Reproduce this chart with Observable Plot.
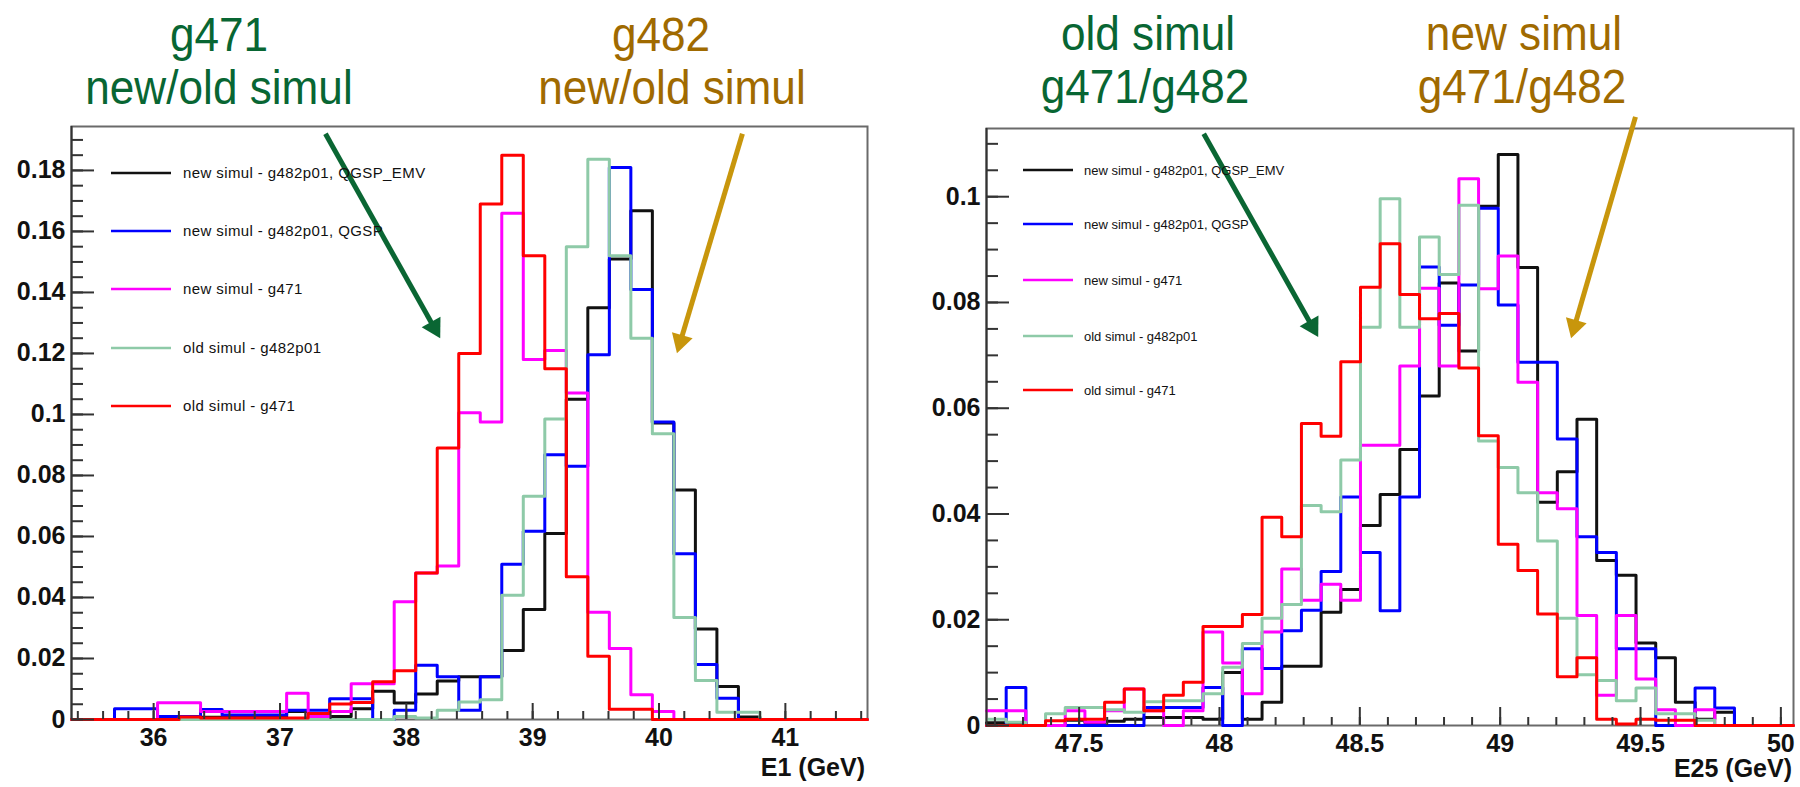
<!DOCTYPE html>
<html>
<head>
<meta charset="utf-8">
<script src="https://cdn.jsdelivr.net/npm/d3@7"></script>
<script src="https://cdn.jsdelivr.net/npm/@observablehq/plot@0.6"></script>
<style>
  html, body { margin: 0; padding: 0; background: #fff; }
  #root { position: relative; width: 1800px; height: 787px; overflow: hidden; }
  #root > svg { position: absolute; top: 0; }
</style>
</head>
<body>
<div id="root"></div>
<script>
// ===================== DATA =====================
const seriesNames = [
  "new simul - g482p01, QGSP_EMV",
  "new simul - g482p01, QGSP",
  "new simul - g471",
  "old simul - g482p01",
  "old simul - g471"
];
const seriesColors = ["#111111", "#0000ff", "#ff00ff", "#8ecaa8", "#ff0000"];

// ---- left panel : E1 (GeV), 37 bins ----
const e1Bins = {lo: 35.35, hi: 41.65, n: 37};
const e1XTicks = [36, 37, 38, 39, 40, 41];
const e1YTicks = [0, 0.02, 0.04, 0.06, 0.08, 0.10, 0.12, 0.14, 0.16, 0.18];
const e1YMax = 0.1944;
const e1_newEMV = [0, 0, 0, 0, 0.001, 0.001, 0.0007, 0.0007, 0.0007, 0.0007, 0.0026, 0.001, 0.001, 0.0035, 0.0093, 0.0054, 0.0084, 0.0126, 0.014, 0.014, 0.0226, 0.0361, 0.061, 0.105, 0.135, 0.151, 0.1668, 0.0972, 0.0752, 0.0297, 0.0108, 0.0008, 0, 0, 0, 0, 0];
const e1_newQGSP = [0, 0, 0.0035, 0.0035, 0.001, 0.001, 0.0033, 0.0015, 0.0015, 0.0015, 0.003, 0.003, 0.0068, 0.0068, 0, 0.003, 0.0178, 0.014, 0.003, 0.014, 0.0509, 0.0617, 0.0868, 0.083, 0.1196, 0.181, 0.141, 0.0975, 0.0543, 0.018, 0.007, 0, 0, 0, 0, 0, 0];
const e1_new471 = [0, 0, 0, 0, 0.0055, 0.0055, 0.0026, 0.0026, 0.0026, 0.0026, 0.0086, 0.001, 0.0026, 0.0117, 0.0117, 0.0386, 0.048, 0.0503, 0.1006, 0.0975, 0.166, 0.118, 0.121, 0.107, 0.0352, 0.0233, 0.0081, 0.0026, 0, 0, 0, 0, 0, 0, 0, 0, 0];
const e1_old482 = [0, 0, 0, 0, 0, 0, 0, 0, 0, 0, 0, 0, 0, 0, 0, 0.001, 0.0005, 0.003, 0.0057, 0.0065, 0.0407, 0.0732, 0.0985, 0.155, 0.1837, 0.152, 0.125, 0.0937, 0.0334, 0.0128, 0.0024, 0.0024, 0, 0, 0, 0, 0];
const e1_old471 = [0, 0, 0, 0, 0, 0.0008, 0.0005, 0.0005, 0.0005, 0.0005, 0.0005, 0.002, 0.0051, 0.0056, 0.0124, 0.016, 0.048, 0.089, 0.12, 0.169, 0.185, 0.152, 0.115, 0.0468, 0.0207, 0.0034, 0.0034, 0, 0, 0, 0, 0, 0, 0, 0, 0, 0];

// ---- right panel : E25 (GeV), 41 bins ----
const e25Bins = {lo: 47.17, hi: 50.045, n: 41};
const e25XTicks = [47.5, 48, 48.5, 49, 49.5, 50];
const e25YTicks = [0, 0.02, 0.04, 0.06, 0.08, 0.10];
const e25YMax = 0.1129;
const e25_newEMV = [0.0005, 0.0005, 0, 0, 0.001, 0.0005, 0.0008, 0.0012, 0.0015, 0.0015, 0.0015, 0.0012, 0.01, 0.0012, 0.0044, 0.0112, 0.0112, 0.0214, 0.0257, 0.0378, 0.0437, 0.0522, 0.0623, 0.0837, 0.0708, 0.0982, 0.108, 0.0866, 0.0422, 0.048, 0.0579, 0.0312, 0.0284, 0.0156, 0.0128, 0.0044, 0.0012, 0.0025, 0, 0, 0];
const e25_newQGSP = [0, 0.0072, 0, 0, 0, 0, 0, 0, 0.0034, 0.0034, 0.0034, 0.0072, 0, 0.0145, 0.0108, 0.0179, 0.0218, 0.0291, 0.0432, 0.0327, 0.0217, 0.0432, 0.0867, 0.0757, 0.0833, 0.0978, 0.0795, 0.0687, 0.0687, 0.0542, 0.0357, 0.0327, 0.0145, 0.0145, 0, 0, 0.0071, 0.0033, 0, 0, 0];
const e25_new471 = [0.0028, 0.0028, 0, 0, 0.0028, 0.0006, 0.0028, 0.0069, 0.0028, 0, 0.0028, 0.0177, 0.0118, 0.006, 0.0177, 0.0296, 0.0237, 0.0267, 0.0237, 0.053, 0.053, 0.068, 0.0827, 0.068, 0.1034, 0.0826, 0.0888, 0.0649, 0.044, 0.041, 0.0208, 0.0057, 0.0208, 0.0088, 0.003, 0, 0.003, 0, 0, 0, 0];
const e25_old482 = [0.0012, 0.0006, 0, 0.0022, 0.0034, 0.0034, 0.003, 0.0025, 0.0045, 0.0047, 0.0047, 0.006, 0.011, 0.0155, 0.0203, 0.0229, 0.0416, 0.0404, 0.0502, 0.0753, 0.0996, 0.0753, 0.0924, 0.0853, 0.0984, 0.0538, 0.0488, 0.044, 0.0349, 0.0203, 0.0096, 0.0085, 0.0047, 0.0071, 0.0022, 0.0022, 0.001, 0, 0, 0, 0];
const e25_old471 = [0, 0, 0, 0.0009, 0.0012, 0.0012, 0.0044, 0.0069, 0.0028, 0.0057, 0.0082, 0.0187, 0.0187, 0.021, 0.0394, 0.0357, 0.0571, 0.0547, 0.0688, 0.0829, 0.0911, 0.0815, 0.0769, 0.0779, 0.0676, 0.0548, 0.0343, 0.0293, 0.0211, 0.0092, 0.0128, 0.0012, 0.0003, 0.0012, 0.001, 0.001, 0, 0, 0, 0, 0];

// ---- annotations (data coordinates of each panel) ----
const annoGreen = "#0a6633", annoGold = "#c8960c";
const e1Arrows = [
  {x1: 37.36, y1: 0.192, x2: 38.22, y2: 0.1285, color: annoGreen},
  {x1: 40.66, y1: 0.192, x2: 40.17, y2: 0.124, color: annoGold}
];
const e25Arrows = [
  {x1: 47.944, y1: 0.1119, x2: 48.33, y2: 0.0755, color: annoGreen},
  {x1: 49.482, y1: 0.1151, x2: 49.265, y2: 0.0755, color: annoGold}
];
const titles = [
  {text: "g471", cx: 219, by: 51, color: "#086633"},
  {text: "new/old simul", cx: 219, by: 104, color: "#086633"},
  {text: "g482", cx: 661, by: 51, color: "#a06a00"},
  {text: "new/old simul", cx: 672, by: 104, color: "#a06a00"},
  {text: "old simul", cx: 1148, by: 50, color: "#086633"},
  {text: "g471/g482", cx: 1145, by: 103, color: "#086633"},
  {text: "new simul", cx: 1524, by: 50, color: "#a06a00"},
  {text: "g471/g482", cx: 1522, by: 103, color: "#a06a00"}
];

// ===================== DRAW =====================
const H = 787;
const FONT = '"Liberation Sans", Arial, Helvetica, sans-serif';

function histPoints(bins, values) {
  const w = (bins.hi - bins.lo) / bins.n;
  const pts = values.map((v, k) => ({x: bins.lo + k * w, y: v}));
  pts.push({x: bins.hi, y: values[values.length - 1]});
  return pts;
}

function panel(cfg) {
  const {bins, seriesValues, xTicks, xMinor, yTicks, yMinor, yMax, width, mL, mR, mT, mB, xTickLen, arrows} = cfg;
  const plotW = width - mL - mR, plotH = H - mT - mB;
  const marks = [Plot.frame({stroke: "#6a6a6a", strokeWidth: 2})];
  seriesValues.forEach((vals, i) => {
    marks.push(Plot.line(histPoints(bins, vals), {
      x: "x", y: "y", curve: "step-after", stroke: seriesColors[i], strokeWidth: 3
    }));
  });
  marks.push(Plot.ruleX([bins.lo], {stroke: "#333", strokeWidth: 2}));
  marks.push(Plot.tickY(yMinor, {y: d => d, insetRight: plotW - 12, stroke: "#333", strokeWidth: 2}));
  marks.push(Plot.tickY(yTicks, {y: d => d, insetRight: plotW - 23, stroke: "#333", strokeWidth: 2}));
  marks.push(Plot.tickX(xMinor, {x: d => d, insetTop: plotH - 8, stroke: "#333", strokeWidth: 2}));
  marks.push(Plot.tickX(xTicks, {x: d => d, insetTop: plotH - xTickLen, stroke: "#333", strokeWidth: 2}));
  marks.push(Plot.axisY(yTicks, {tickSize: 0, tickPadding: 6, tickFormat: d3.format(".2~f"), label: null, fontSize: 25, fontWeight: "bold", fill: "#111"}));
  marks.push(Plot.axisX(xTicks, {tickSize: 0, tickPadding: 9, tickFormat: d => String(d), label: null, fontSize: 25, fontWeight: "bold", fill: "#111"}));
  for (const a of arrows) {
    const dxp = (a.x2 - a.x1) / (bins.hi - bins.lo) * plotW;
    const dyp = -(a.y2 - a.y1) / yMax * plotH;
    const ang = Math.atan2(dxp, -dyp) * 180 / Math.PI;
    marks.push(Plot.link([a], {x1: "x1", y1: "y1", x2: "x2", y2: "y2", stroke: a.color, strokeWidth: 5}));
    marks.push(Plot.dot([a], {x: "x2", y: "y2", symbol: "triangle", r: 8, fill: a.color, stroke: "none", rotate: ang}));
  }
  return Plot.plot({
    width, height: H,
    marginLeft: mL, marginRight: mR, marginTop: mT, marginBottom: mB,
    x: {domain: [bins.lo, bins.hi]},
    y: {domain: [0, yMax]},
    style: {fontFamily: FONT, background: "transparent", overflow: "visible"},
    marks
  });
}

const root = document.getElementById("root");

const leftSvg = panel({
  bins: e1Bins,
  seriesValues: [e1_newEMV, e1_newQGSP, e1_new471, e1_old482, e1_old471],
  xTicks: e1XTicks, xMinor: d3.range(35.4, 41.65, 0.2),
  yTicks: e1YTicks, yMinor: d3.range(0, 0.194, 0.005),
  yMax: e1YMax, width: 880, mL: 71, mR: 13, mT: 126, mB: 68, xTickLen: 16,
  arrows: e1Arrows
});
leftSvg.style.left = "0px";
root.appendChild(leftSvg);

const rightSvg = panel({
  bins: e25Bins,
  seriesValues: [e25_newEMV, e25_newQGSP, e25_new471, e25_old482, e25_old471],
  xTicks: e25XTicks, xMinor: d3.range(47.2, 50.04, 0.1),
  yTicks: e25YTicks, yMinor: d3.range(0, 0.1125, 0.005),
  yMax: e25YMax, width: 900, mL: 86, mR: 7, mT: 128, mB: 62, xTickLen: 18,
  arrows: e25Arrows
});
rightSvg.style.left = "900px";
root.appendChild(rightSvg);

// ---- overlay: titles, legends, axis titles ----
const ov = d3.select(root).append("svg")
  .attr("width", 1800).attr("height", H)
  .style("left", "0px").style("pointer-events", "none")
  .style("font-family", FONT);

for (const t of titles) {
  ov.append("text")
    .attr("transform", `translate(${t.cx},${t.by}) scale(0.92,1)`)
    .attr("text-anchor", "middle")
    .attr("font-size", 48)
    .attr("fill", t.color)
    .text(t.text);
}

function legend(rows, lx1, lx2, tx, fs, ls) {
  seriesNames.forEach((name, i) => {
    ov.append("line").attr("x1", lx1).attr("x2", lx2).attr("y1", rows[i]).attr("y2", rows[i])
      .attr("stroke", seriesColors[i]).attr("stroke-width", 2.5);
    ov.append("text").attr("x", tx).attr("y", rows[i] + fs * 0.36)
      .attr("font-size", fs).attr("letter-spacing", ls).attr("fill", "#111").text(name);
  });
}
legend([173, 231, 289, 348, 406], 111, 171, 183, 15, 0.4);
legend([170, 224, 280, 336, 390], 1023, 1073, 1084, 13, 0);

ov.append("text").attr("x", 865).attr("y", 776).attr("text-anchor", "end")
  .attr("font-size", 25).attr("font-weight", "bold").attr("fill", "#111").text("E1 (GeV)");
ov.append("text").attr("x", 1792).attr("y", 777).attr("text-anchor", "end")
  .attr("font-size", 25).attr("font-weight", "bold").attr("fill", "#111").text("E25 (GeV)");
</script>
</body>
</html>
